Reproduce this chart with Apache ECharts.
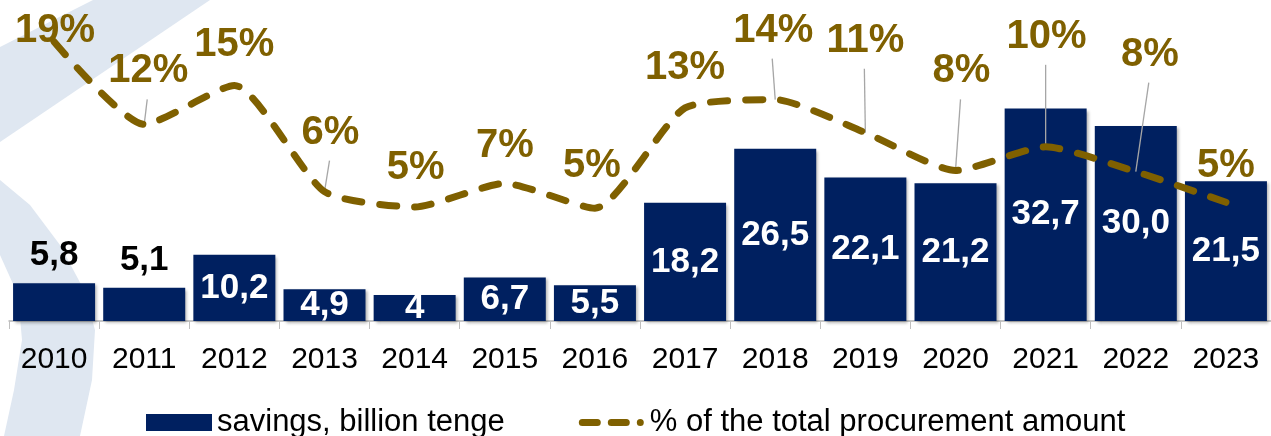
<!DOCTYPE html>
<html>
<head>
<meta charset="utf-8">
<script src="https://cdn.jsdelivr.net/npm/echarts@6/dist/echarts.min.js"></script>
<style>
	html, body {margin: 0; padding: 0; background: #fff;}
	#chart {width: 1271px; height: 436px;}
</style>
</head>
<body>
<div id="chart"></div>
<script>
const years = ['2010', '2011', '2012', '2013', '2014', '2015', '2016', '2017', '2018', '2019', '2020', '2021', '2022', '2023']
const savings = [5.8, 5.1, 10.2, 4.9, 4, 6.7, 5.5, 18.2, 26.5, 22.1, 21.2, 32.7, 30.0, 21.5]
const sharePct = [19.0, 12.0, 15.3, 6.3, 5.0, 7.0, 4.9, 13.4, 14.1, 11.3, 8.1, 10.1, 8.0, 5.4]
// bars whose value sits above the bar instead of inside
const labelAbove = ['2010', '2011']
// percent labels that are pulled away with a leader line
const withLeader = ['2011', '2013', '2018', '2019', '2020', '2021', '2022']

const NAVY = '#002060'
const OLIVE = '#7f6000'
const FONT = '"Liberation Sans", Arial, sans-serif'

// label nudges (dx, dy) relative to the default 'top' spot
const pctShift = [[1, 14], [4, -28], [0, -15], [6, -34], [1, -14], [0, -12], [-3, -17],
	[0, -15], [-2, -44], [0, -67], [6, -74], [1, -85], [14, -92], [0, -11]]

// legend icon: two dashes and a dot (plus two invisible corner points to fix the box)
const dashIcon = 'path://M0 0L0 0.01Z M66 17L66 16.99Z' +
	'M3.5 5H18.5A3.5 3.5 0 0 1 18.5 12H3.5A3.5 3.5 0 0 1 3.5 5Z' +
	'M32.5 5H47.5A3.5 3.5 0 0 1 47.5 12H32.5A3.5 3.5 0 0 1 32.5 5Z' +
	'M58 8.5A3.5 3.5 0 1 1 65 8.5A3.5 3.5 0 1 1 58 8.5Z'

const fmtComma = v => (Number.isInteger(v) && v !== 30 ? String(v) : v.toFixed(1)).replace('.', ',')

const chart = echarts.init(document.getElementById('chart'))

chart.setOption({
	animation: false,
	backgroundColor: '#fff',
	textStyle: {fontFamily: FONT},
	graphic: [
		{
			type: 'polygon', z: -10, silent: true,
			shape: {points: [[0, 47], [93, 0], [210, 0], [0, 142]]},
			style: {fill: '#dfe7f1'}
		},
		{
			type: 'polygon', z: -10, silent: true,
			shape: {points: [[0, 180], [30, 205], [60, 245], [84, 290], [95, 330], [92, 380], [80, 436],
				[4, 436], [14, 390], [22, 340], [18, 295], [0, 255]]},
			style: {fill: '#dfe7f1'}
		}
	],
	grid: {left: 9, right: 0, top: 0, bottom: 115},
	legend: {
		left: 141,
		top: 402,
		itemGap: 74,
		itemWidth: 66,
		itemHeight: 17,
		textStyle: {fontSize: 31, color: '#000', fontFamily: FONT},
		data: [
			{name: 'savings, billion tenge', icon: 'rect'},
			{name: '% of the total procurement amount', icon: dashIcon, itemStyle: {color: OLIVE}}
		]
	},
	xAxis: {
		type: 'category',
		data: years,
		boundaryGap: true,
		axisLine: {lineStyle: {color: '#b4b4b4', width: 1.5}},
		axisTick: {show: true, length: 8, lineStyle: {color: '#bfbfbf'}},
		axisLabel: {fontSize: 30, color: '#000', margin: 24, fontFamily: FONT}
	},
	yAxis: [
		{type: 'value', min: 0, max: 49.4, show: false, splitLine: {show: false}},
		{type: 'value', min: -4.66, max: 22.54, show: false, splitLine: {show: false}}
	],
	series: [
		{
			name: 'savings, billion tenge',
			type: 'bar',
			barWidth: 82,
			itemStyle: {
				color: NAVY,
				shadowColor: 'rgba(0,0,0,0.3)', shadowBlur: 3, shadowOffsetX: 2, shadowOffsetY: 2
			},
			label: {
				show: true,
				position: 'inside',
				color: '#fff',
				fontSize: 35,
				fontWeight: 'bold',
				fontFamily: FONT,
				formatter: p => fmtComma(p.value)
			},
			data: savings.map((v, i) => labelAbove.includes(years[i])
				? {value: v, label: {position: 'top', color: '#000', distance: 10}}
				: v)
		},
		{
			// thin grey leader lines from the moved labels down to the curve
			name: 'leaders',
			type: 'custom',
			yAxisIndex: 1,
			z: 4,
			silent: true,
			encode: {x: 0, y: 1},
			renderItem: (params, api) => {
				const i = params.dataIndex
				if (!withLeader.includes(years[i])) {
					return
				}
				const pt = api.coord([api.value(0), api.value(1)])
				const [dx, dy] = pctShift[i]
				return {
					type: 'line',
					shape: {x1: pt[0] + dx - 1, y1: pt[1] + dy + 3, x2: pt[0], y2: pt[1]},
					style: {stroke: '#a6a6a6', lineWidth: 1.3}
				}
			},
			data: sharePct.map((v, i) => [i, v])
		},
		{
			name: '% of the total procurement amount',
			type: 'line',
			yAxisIndex: 1,
			smooth: 0.2,
			symbol: 'circle',
			symbolSize: 0,
			showSymbol: true,
			z: 5,
			lineStyle: {color: OLIVE, width: 7, type: [17, 18], cap: 'round', join: 'round'},
			itemStyle: {color: OLIVE},
			label: {
				show: true,
				position: 'top',
				color: OLIVE,
				fontSize: 40,
				fontWeight: 'bold',
				fontFamily: FONT,
				formatter: p => Math.round(p.value) + '%'
			},
			labelLayout: p => ({dx: pctShift[p.dataIndex][0], dy: pctShift[p.dataIndex][1]}),
			data: sharePct
		}
	]
})
</script>
</body>
</html>
